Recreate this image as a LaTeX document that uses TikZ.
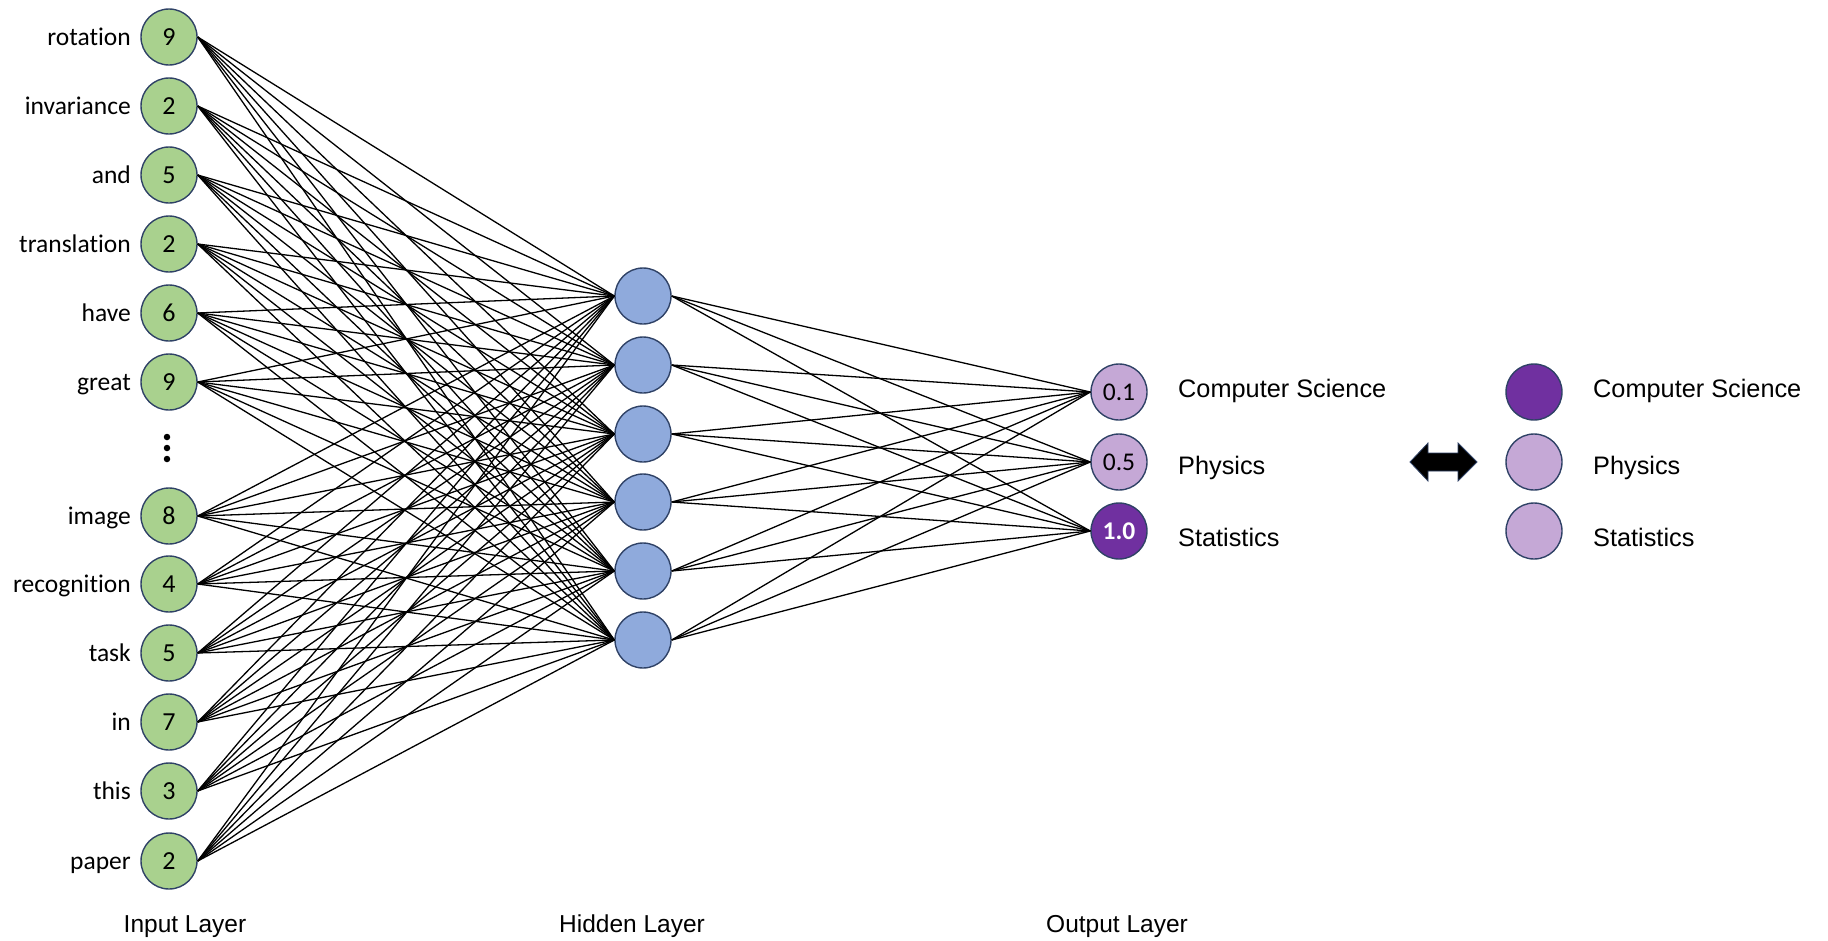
\documentclass[tikz,border=0pt]{standalone}
\usepackage{fontspec}
\setmainfont{Carlito}[Ligatures=NoCommon]
\newfontfamily\labelfont{Liberation Sans}
\definecolor{ingreen}{HTML}{A9D18E}
\definecolor{hidblue}{HTML}{8FAADC}
\definecolor{lightpurple}{HTML}{C5A8D6}
\definecolor{darkpurple}{HTML}{7030A0}
\definecolor{rimnavy}{HTML}{2F4266}
\tikzset{
  neuron/.style={circle, draw=rimnavy, line width=1.4pt, minimum size=56pt, inner sep=0pt,
                 font=\fontsize{26}{30}\selectfont},
  innode/.style={neuron, fill=ingreen},
  hidnode/.style={neuron, fill=hidblue},
  outlight/.style={neuron, fill=lightpurple, font=\fontsize{25.5}{30}\selectfont},
  outdark/.style={neuron, fill=darkpurple, text=white, font=\fontsize{25.5}{30}\selectfont\bfseries},
  wordlabel/.style={anchor=base east, inner sep=0pt, font=\fontsize{25.5}{30}\selectfont},
  classlabel/.style={anchor=base west, inner sep=0pt, font=\labelfont\fontsize{25.3}{30}\selectfont},
  layerlabel/.style={anchor=base, inner sep=0pt, font=\labelfont\fontsize{24.5}{30}\selectfont},
  wire/.style={line width=1.3pt, black}
}
\begin{document}
\begin{tikzpicture}[x=1pt, y=-1pt]
\useasboundingbox (0,0) rectangle (1828,940);

% input layer: word counts
\foreach \n/\w/\v/\y in {1/rotation/9/37, 2/invariance/2/106, 3/and/5/175, 4/translation/2/244,
                         5/have/6/313, 6/great/9/382, 7/image/8/516, 8/recognition/4/584,
                         9/task/5/653, 10/in/7/722, 11/this/3/791, 12/paper/2/861} {
  \node[innode] (i\n) at (169,\y) {\v};
  \node[wordlabel] (w\n) at (131,\y+8) {\w};
}
\node[circle, fill=black, inner sep=0pt, minimum size=6.5pt] (d1) at (167,437) {};
\node[circle, fill=black, inner sep=0pt, minimum size=6.5pt] (d2) at (167,448) {};
\node[circle, fill=black, inner sep=0pt, minimum size=6.5pt] (d3) at (167,459) {};

% hidden layer
\foreach \n/\y in {1/296, 2/365, 3/434, 4/502, 5/571, 6/640} {
  \node[hidnode] (h\n) at (643,\y) {};
}

% output layer
\node[outlight] (o1) at (1119,392) {0.1};
\node[outlight] (o2) at (1119,462) {0.5};
\node[outdark]  (o3) at (1119,531) {1.0};
\node[classlabel] (c1) at (1178,397) {Computer Science};
\node[classlabel] (c2) at (1178,474) {Physics};
\node[classlabel] (c3) at (1178,546) {Statistics};

% connections
\foreach \a in {1,...,12} {
  \foreach \b in {1,...,6} {
    \draw[wire] (i\a.east) -- (h\b.west);
  }
}
\foreach \a in {1,...,6} {
  \foreach \b in {1,2,3} {
    \draw[wire] (h\a.east) -- (o\b.west);
  }
}

% double arrow
\draw[fill=black, draw=rimnavy, line width=0.8pt, line join=miter]
  (1410,462) -- (1428,443) -- (1428,453) -- (1458,453) -- (1458,443) -- (1477,462)
  -- (1458,481) -- (1458,471) -- (1428,471) -- (1428,481) -- cycle;

% one-hot target
\node[outdark]  (t1) at (1534,392) {};
\node[outlight] (t2) at (1534,462) {};
\node[outlight] (t3) at (1534,531) {};
\node[classlabel] (l1) at (1593,397) {Computer Science};
\node[classlabel] (l2) at (1593,474) {Physics};
\node[classlabel] (l3) at (1593,546) {Statistics};

% layer captions
\node[layerlabel] (L1) at (185,932) {Input Layer};
\node[layerlabel] (L2) at (632,932) {Hidden Layer};
\node[layerlabel] (L3) at (1117,932) {Output Layer};
\end{tikzpicture}
\end{document}
